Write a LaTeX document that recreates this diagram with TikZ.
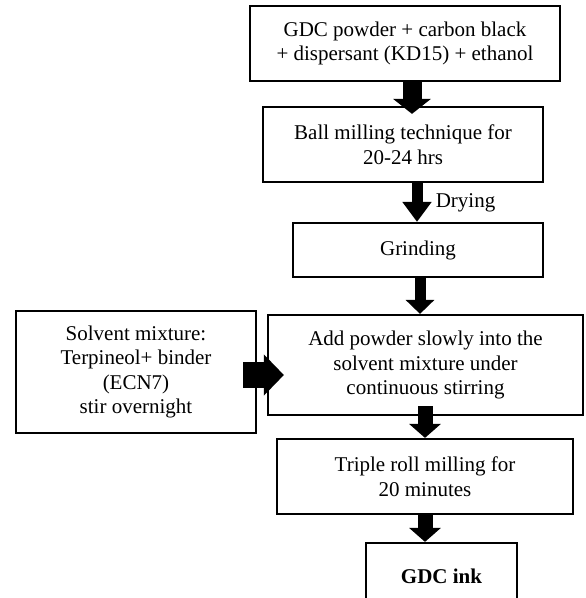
\documentclass[tikz,border=0pt]{standalone}
\usepackage{fontspec}
\setmainfont{Liberation Serif}
\usetikzlibrary{arrows.meta}
\tikzset{
  box/.style={draw,line width=2.2pt,inner sep=0pt,align=center,
    font=\fontsize{21}{24.5}\selectfont},
  flow/.style args={#1/#2/#3}{line width=#1,-{Triangle[width=#2,length=#3]}}
}
\begin{document}
\begin{tikzpicture}[x=1pt,y=-1pt]
\useasboundingbox (0,0) rectangle (586,598);
% process boxes
\node[box,minimum width=310pt,minimum height=75pt] (mix) at (405,43.5)
  {GDC powder + carbon black\\+ dispersant (KD15) + ethanol};
\node[box,minimum width=280pt,minimum height=75pt] (ball) at (403,144.5)
  {Ball milling technique for\\20-24 hrs};
\node[box,minimum width=250pt,minimum height=54pt] (grind) at (418,250) {Grinding};
\node[box,minimum width=315pt,minimum height=100pt] (add) at (425.5,365)
  {Add powder slowly into the\\solvent mixture under\\continuous stirring};
\node[box,minimum width=240pt,minimum height=122pt] (solv) at (136,372)
  {Solvent mixture:\\Terpineol+ binder\\(ECN7)\\stir overnight};
\node[box,minimum width=296pt,minimum height=75pt] (triple) at (425,476.5)
  {Triple roll milling for\\20 minutes};
\node[box,minimum width=151pt,minimum height=67pt] (ink) at (441.5,576.5)
  {\textbf{GDC ink}};
% arrows
\draw[flow=19pt/37pt/15pt,shorten >=-8pt] (mix.south -| 412,0) -- (ball.north -| 412,0);
\draw[flow=11pt/28pt/20pt] (ball.south -| 417,0) -- (grind.north -| 417,0)
  node[midway,anchor=west,xshift=10pt,font=\fontsize{21}{24.5}\selectfont] (dry) {Drying};
\draw[flow=11pt/28pt/14pt] (grind.south -| 420,0) -- (add.north -| 420,0);
\draw[flow=26pt/40pt/20pt,shorten <=-14pt,shorten >=-17pt] (solv.east |- 0,375) -- (add.west |- 0,375);
\draw[flow=15pt/31pt/14pt,shorten <=-10pt] (add.south -| 425,0) -- (triple.north -| 425,0);
\draw[flow=15pt/31pt/14pt] (triple.south -| 425,0) -- (ink.north -| 425,0);
\end{tikzpicture}
\end{document}
